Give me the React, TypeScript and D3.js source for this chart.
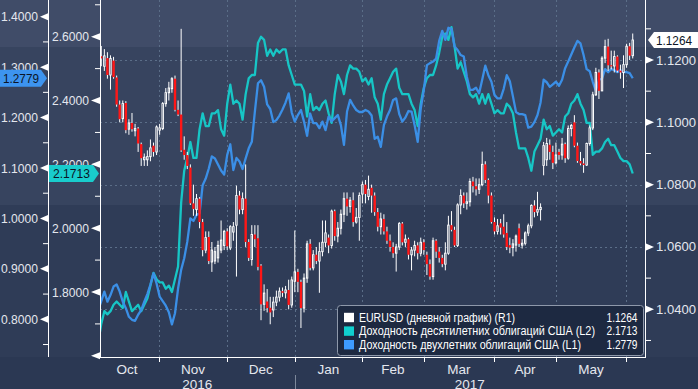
import React from 'react';
import * as d3 from 'd3';

// trading days: index 0 = 3 Oct 2016 ... index 174 = 2 Jun 2017
// EURUSD daily candles [open, high, low, close]
const eurusd: [number, number, number, number][] = [
  [1.1240, 1.1250, 1.1200, 1.1210], [1.1212, 1.1245, 1.1180, 1.1205], [1.1180, 1.1235, 1.1165, 1.1213],
  [1.1206, 1.1225, 1.1140, 1.1152], [1.1152, 1.1215, 1.1105, 1.1205], [1.1198, 1.1210, 1.1140, 1.1145],
  [1.1144, 1.1150, 1.1050, 1.1057], [1.1057, 1.1070, 1.1000, 1.1010], [1.1012, 1.1070, 1.1000, 1.1060],
  [1.1062, 1.1068, 1.0965, 1.0975], [1.0978, 1.1010, 1.0960, 1.0998], [1.0998, 1.1030, 1.0970, 1.0978],
  [1.0973, 1.0995, 1.0955, 1.0980], [1.0980, 1.0985, 1.0905, 1.0932], [1.0930, 1.0935, 1.0860, 1.0885],
  [1.0880, 1.0900, 1.0860, 1.0888], [1.0880, 1.0910, 1.0860, 1.0890], [1.0890, 1.0945, 1.0875, 1.0918],
  [1.0925, 1.0935, 1.0890, 1.0905], [1.0905, 1.0990, 1.0895, 1.0985], [1.0975, 1.0995, 1.0960, 1.0982],
  [1.0980, 1.1065, 1.0975, 1.1060], [1.1060, 1.1110, 1.1050, 1.1095], [1.1095, 1.1130, 1.1070, 1.1110],
  [1.1108, 1.1145, 1.1095, 1.1140], [1.1140, 1.1150, 1.1035, 1.1040], [1.1040, 1.1070, 1.1020, 1.1025],
  [1.1025, 1.1300, 1.0905, 1.0910], [1.0912, 1.0955, 1.0880, 1.0895], [1.0895, 1.0905, 1.0850, 1.0860],
  [1.0855, 1.0865, 1.0735, 1.0740], [1.0740, 1.0800, 1.0700, 1.0722], [1.0720, 1.0770, 1.0700, 1.0755],
  [1.0755, 1.0760, 1.0660, 1.0680], [1.0680, 1.0690, 1.0570, 1.0590], [1.0590, 1.0650, 1.0580, 1.0630],
  [1.0632, 1.0650, 1.0545, 1.0555], [1.0552, 1.0616, 1.0520, 1.0590], [1.0555, 1.0600, 1.0545, 1.0585],
  [1.0565, 1.0620, 1.0550, 1.0605], [1.0590, 1.0685, 1.0580, 1.0622], [1.0605, 1.0655, 1.0590, 1.0650],
  [1.0650, 1.0660, 1.0590, 1.0602], [1.0597, 1.0670, 1.0590, 1.0665], [1.0648, 1.0680, 1.0620, 1.0665],
  [1.0670, 1.0797, 1.0505, 1.0765], [1.0765, 1.0780, 1.0705, 1.0720], [1.0720, 1.0775, 1.0705, 1.0755],
  [1.0755, 1.0865, 1.0600, 1.0616], [1.0616, 1.0625, 1.0555, 1.0565], [1.0560, 1.0670, 1.0540, 1.0640],
  [1.0640, 1.0670, 1.0600, 1.0625], [1.0628, 1.0670, 1.0525, 1.0536], [1.0540, 1.0545, 1.0365, 1.0416],
  [1.0416, 1.0480, 1.0395, 1.0452], [1.0425, 1.0465, 1.0390, 1.0404], [1.0405, 1.0440, 1.0352, 1.0390],
  [1.0398, 1.0440, 1.0375, 1.0423], [1.0423, 1.0460, 1.0410, 1.0439], [1.0439, 1.0470, 1.0425, 1.0458],
  [1.0458, 1.0470, 1.0440, 1.0453], [1.0453, 1.0475, 1.0435, 1.0462], [1.0462, 1.0495, 1.0400, 1.0414],
  [1.0414, 1.0505, 1.0405, 1.0494], [1.0490, 1.0653, 1.0455, 1.0520], [1.0520, 1.0530, 1.0455, 1.0488],
  [1.0488, 1.0495, 1.0340, 1.0404], [1.0404, 1.0515, 1.0390, 1.0500], [1.0500, 1.0620, 1.0485, 1.0610],
  [1.0610, 1.0625, 1.0525, 1.0533], [1.0533, 1.0590, 1.0525, 1.0575], [1.0575, 1.0600, 1.0545, 1.0555],
  [1.0555, 1.0615, 1.0453, 1.0585], [1.0585, 1.0685, 1.0570, 1.0615], [1.0615, 1.0685, 1.0600, 1.0645],
  [1.0630, 1.0640, 1.0580, 1.0605], [1.0605, 1.0720, 1.0595, 1.0715], [1.0715, 1.0720, 1.0620, 1.0635],
  [1.0635, 1.0680, 1.0615, 1.0660], [1.0660, 1.0720, 1.0640, 1.0705], [1.0705, 1.0775, 1.0680, 1.0755],
  [1.0755, 1.0775, 1.0700, 1.0730], [1.0730, 1.0760, 1.0710, 1.0750], [1.0750, 1.0775, 1.0665, 1.0680],
  [1.0680, 1.0725, 1.0675, 1.0695], [1.0695, 1.0775, 1.0620, 1.0765], [1.0770, 1.0810, 1.0740, 1.0800],
  [1.0800, 1.0815, 1.0740, 1.0770], [1.0762, 1.0829, 1.0750, 1.0785], [1.0790, 1.0800, 1.0710, 1.0765],
  [1.0765, 1.0775, 1.0700, 1.0712], [1.0712, 1.0725, 1.0650, 1.0665], [1.0665, 1.0710, 1.0640, 1.0690],
  [1.0690, 1.0705, 1.0640, 1.0650], [1.0650, 1.0665, 1.0610, 1.0620], [1.0620, 1.0640, 1.0585, 1.0600],
  [1.0600, 1.0615, 1.0565, 1.0580], [1.0580, 1.0610, 1.0521, 1.0600], [1.0600, 1.0680, 1.0590, 1.0675],
  [1.0675, 1.0680, 1.0605, 1.0615], [1.0615, 1.0640, 1.0600, 1.0625], [1.0625, 1.0630, 1.0560, 1.0575],
  [1.0575, 1.0600, 1.0525, 1.0590], [1.0590, 1.0620, 1.0570, 1.0605], [1.0605, 1.0615, 1.0560, 1.0580],
  [1.0580, 1.0630, 1.0570, 1.0615], [1.0615, 1.0625, 1.0575, 1.0590], [1.0575, 1.0585, 1.0510, 1.0545],
  [1.0545, 1.0560, 1.0495, 1.0505], [1.0505, 1.0630, 1.0495, 1.0620], [1.0620, 1.0625, 1.0565, 1.0585],
  [1.0585, 1.0600, 1.0550, 1.0565], [1.0565, 1.0575, 1.0535, 1.0545], [1.0545, 1.0615, 1.0525, 1.0580],
  [1.0580, 1.0700, 1.0575, 1.0670], [1.0670, 1.0715, 1.0650, 1.0655], [1.0655, 1.0665, 1.0600, 1.0605],
  [1.0605, 1.0740, 1.0600, 1.0735], [1.0735, 1.0785, 1.0705, 1.0765], [1.0765, 1.0775, 1.0725, 1.0740],
  [1.0740, 1.0775, 1.0720, 1.0745], [1.0745, 1.0820, 1.0730, 1.0810], [1.0810, 1.0825, 1.0775, 1.0795],
  [1.0795, 1.0820, 1.0765, 1.0785], [1.0785, 1.0820, 1.0770, 1.0800], [1.0800, 1.0906, 1.0795, 1.0865],
  [1.0865, 1.0875, 1.0805, 1.0815], [1.0815, 1.0820, 1.0740, 1.0765], [1.0765, 1.0775, 1.0675, 1.0680],
  [1.0680, 1.0695, 1.0640, 1.0650], [1.0650, 1.0690, 1.0640, 1.0668], [1.0676, 1.0690, 1.0640, 1.0662],
  [1.0665, 1.0705, 1.0630, 1.0640], [1.0645, 1.0680, 1.0590, 1.0600], [1.0606, 1.0630, 1.0580, 1.0598],
  [1.0598, 1.0625, 1.0570, 1.0610], [1.0606, 1.0640, 1.0585, 1.0635], [1.0660, 1.0675, 1.0600, 1.0610],
  [1.0606, 1.0625, 1.0595, 1.0612], [1.0612, 1.0650, 1.0605, 1.0645], [1.0645, 1.0675, 1.0635, 1.0668],
  [1.0668, 1.0737, 1.0660, 1.0733], [1.0733, 1.0750, 1.0695, 1.0712], [1.0712, 1.0777, 1.0700, 1.0720],
  [1.0720, 1.0740, 1.0685, 1.0727], [1.0862, 1.0937, 1.0830, 1.0925], [1.0880, 1.0950, 1.0860, 1.0932],
  [1.0928, 1.0945, 1.0880, 1.0905], [1.0905, 1.0925, 1.0850, 1.0870], [1.0870, 1.0935, 1.0865, 1.0895],
  [1.0905, 1.0915, 1.0880, 1.0895], [1.0895, 1.0950, 1.0880, 1.0930], [1.0930, 1.0935, 1.0870, 1.0885],
  [1.0885, 1.0990, 1.0880, 1.0980], [1.0980, 1.0995, 1.0955, 1.0990], [1.1000, 1.1023, 1.0920, 1.0925],
  [1.0925, 1.0935, 1.0870, 1.0876], [1.0876, 1.0905, 1.0862, 1.0868], [1.0868, 1.0885, 1.0838, 1.0863],
  [1.0863, 1.0935, 1.0860, 1.0932], [1.0932, 1.0990, 1.0925, 1.0982], [1.0982, 1.1098, 1.0975, 1.1088],
  [1.1088, 1.1175, 1.1085, 1.1160], [1.1160, 1.1170, 1.1075, 1.1101], [1.1101, 1.1212, 1.1100, 1.1206],
  [1.1206, 1.1265, 1.1190, 1.1243], [1.1243, 1.1268, 1.1165, 1.1183], [1.1183, 1.1230, 1.1170, 1.1181],
  [1.1181, 1.1230, 1.1160, 1.1211], [1.1211, 1.1215, 1.1160, 1.1166], [1.1166, 1.1185, 1.1140, 1.1160],
  [1.1160, 1.1215, 1.1110, 1.1185], [1.1185, 1.1252, 1.1175, 1.1244], [1.1244, 1.1255, 1.1200, 1.1214],
  [1.1214, 1.1285, 1.1205, 1.1264],
];

// US 10y yield (L2)
const ust10y: number[] = [
  1.64, 1.70, 1.74, 1.73, 1.74, 1.76, 1.77, 1.76, 1.75, 1.80, 1.77, 1.74, 1.75, 1.76, 1.74, 1.76, 1.78, 1.82, 1.86, 1.84,
  1.83, 1.83, 1.81, 1.82, 1.80, 1.84, 1.88, 2.08, 2.18, 2.22, 2.27, 2.22, 2.22, 2.31, 2.36, 2.32, 2.32, 2.36, 2.36, 2.37,
  2.31, 2.29, 2.39, 2.45, 2.39, 2.40, 2.39, 2.34, 2.42, 2.47, 2.48, 2.48, 2.58, 2.60, 2.59, 2.54, 2.56, 2.54, 2.56, 2.55,
  2.56, 2.56, 2.51, 2.48, 2.45, 2.45, 2.45, 2.43, 2.35, 2.42, 2.37, 2.38, 2.37, 2.39, 2.40, 2.36, 2.33, 2.42, 2.48, 2.46,
  2.42, 2.48, 2.51, 2.50, 2.50, 2.49, 2.46, 2.47, 2.45, 2.47, 2.41, 2.39, 2.34, 2.42, 2.45, 2.47, 2.49, 2.50, 2.44, 2.42,
  2.42, 2.42, 2.39, 2.37, 2.32, 2.39, 2.44, 2.47, 2.48, 2.48, 2.51, 2.55, 2.60, 2.61, 2.59, 2.63, 2.57, 2.50, 2.52, 2.49,
  2.46, 2.42, 2.41, 2.42, 2.39, 2.42, 2.39, 2.42, 2.39, 2.36, 2.37, 2.36, 2.36, 2.39, 2.38, 2.36, 2.30, 2.25, 2.25, 2.25,
  2.22, 2.18, 2.24, 2.26, 2.28, 2.34, 2.31, 2.32, 2.29, 2.30, 2.31, 2.30, 2.35, 2.36, 2.39, 2.40, 2.42, 2.39, 2.37, 2.33,
  2.33, 2.23, 2.24, 2.24, 2.25, 2.27, 2.28, 2.26, 2.26, 2.24, 2.22, 2.21, 2.21, 2.20, 2.1713,
];

// US 2y yield (L1)
const ust2y: number[] = [
  0.818, 0.836, 0.855, 0.835, 0.848, 0.865, 0.869, 0.855, 0.835, 0.822, 0.805, 0.799, 0.797, 0.809, 0.818, 0.835, 0.850, 0.869, 0.891, 0.871,
  0.845, 0.836, 0.827, 0.814, 0.790, 0.812, 0.861, 0.898, 0.921, 0.954, 1.000, 0.995, 1.007, 1.010, 1.066, 1.079, 1.099, 1.123, 1.119, 1.107,
  1.095, 1.087, 1.126, 1.147, 1.096, 1.120, 1.113, 1.098, 1.119, 1.139, 1.152, 1.212, 1.268, 1.274, 1.261, 1.226, 1.217, 1.191, 1.195, 1.204,
  1.216, 1.230, 1.248, 1.210, 1.192, 1.205, 1.215, 1.192, 1.164, 1.208, 1.189, 1.189, 1.179, 1.192, 1.175, 1.202, 1.193, 1.199, 1.205, 1.185,
  1.146, 1.212, 1.235, 1.224, 1.215, 1.211, 1.211, 1.215, 1.212, 1.204, 1.158, 1.162, 1.142, 1.185, 1.202, 1.215, 1.235, 1.238, 1.207, 1.192,
  1.200, 1.213, 1.212, 1.185, 1.152, 1.218, 1.255, 1.304, 1.308, 1.311, 1.317, 1.352, 1.372, 1.354, 1.378, 1.376, 1.341, 1.334, 1.324, 1.321,
  1.281, 1.255, 1.255, 1.259, 1.248, 1.275, 1.303, 1.284, 1.271, 1.245, 1.238, 1.238, 1.257, 1.284, 1.272, 1.242, 1.211, 1.207, 1.207, 1.205,
  1.180, 1.182, 1.191, 1.205, 1.230, 1.275, 1.270, 1.261, 1.266, 1.271, 1.263, 1.275, 1.298, 1.311, 1.325, 1.339, 1.352, 1.347, 1.324, 1.296,
  1.292, 1.271, 1.253, 1.275, 1.277, 1.296, 1.290, 1.296, 1.294, 1.290, 1.294, 1.290, 1.290, 1.288, 1.2779,
];

// first trading-day index of each month (Oct .. Jun)
const monthStarts = [0, 21, 43, 65, 87, 107, 130, 150, 173];
const monthLabels = ['Oct', 'Nov', 'Dec', 'Jan', 'Feb', 'Mar', 'Apr', 'May'];
const yearLabels = ['2016', '2017'];

const l1Ticks = [0.8, 0.9, 1.0, 1.1, 1.2, 1.3, 1.4];
const l1Minor = [0.75, 0.85, 0.95, 1.05, 1.15, 1.25, 1.35];
const l2Ticks = [1.8, 2.0, 2.2, 2.4, 2.6];
const l2Minor = [1.7, 1.9, 2.1, 2.3, 2.5, 2.7];
const rTicks = [1.04, 1.06, 1.08, 1.1, 1.12];
const rMinor = [1.03, 1.05, 1.07, 1.09, 1.11, 1.13];

const legendNames = [
  'EURUSD (дневной график) (R1)',
  'Доходность десятилетних облигаций США (L2)',
  'Доходность двухлетних облигаций США (L1)',
];
const legendValues = ['1.1264', '2.1713', '1.2779'];
const lastEur = 1.1264;
const last10 = 2.1713;
const last2 = 1.2779;

const FONT = "'Liberation Sans', Arial, sans-serif";
const W = 698;
const H = 389;
const plotL = 100;
const plotR = 645;
const plotB = 357;
const TXT = '#e4e7ee';
const CYAN = '#17c6c6';
const BLUE = '#3b8fe6';

export default function App() {
  const x = d3.scaleLinear().domain([0, 174]).range([98.2, 98.2 + 174 * 3.072]);
  const yR = d3.scaleLinear().domain([1.04, 1.12]).range([309.3, 60]);
  const yL2 = d3.scaleLinear().domain([1.8, 2.6]).range([292, 36.7]);
  const yL1 = d3.scaleLinear().domain([0.8, 1.4]).range([319.3, 16.7]);

  const line10 = d3.line<number>().x((_, i) => x(i)).y(d => yL2(d));
  const line2 = d3.line<number>().x((_, i) => x(i)).y(d => yL1(d));

  // month boundary ticks (Bloomberg draws them just before the first day)
  const tickX = monthStarts.map(s => x(s - 1.1));
  const fmt = d3.format('.4f');
  const bw = 2.4;

  const yE = yR(lastEur);
  const y10 = yL2(last10);
  const y2 = yL1(last2);
  const nameLen = [156, 236, 222];

  return (
    <svg width={W} height={H} style={{ position: 'absolute', left: 0, top: 0, display: 'block' }} fontFamily={FONT}>
      <defs>
        <clipPath id="plot"><rect x={plotL} y={0} width={plotR - plotL} height={plotB} /></clipPath>
      </defs>
      {/* background bands */}
      <rect x={0} y={0} width={W} height={H} fill="#2b3853" />
      <rect x={0} y={0} width={W} height={47} fill="#404c68" />
      <rect x={0} y={47} width={W} height={158} fill="#37445f" />
      <rect x={0} y={205} width={W} height={plotB - 205} fill="#2f3c57" />

      {/* grid */}
      <g stroke="#5b6e88" strokeWidth={1} strokeDasharray="2,3">
        {rTicks.map(t => (
          <line key={'h' + t} x1={plotL} x2={plotR} y1={Math.round(yR(t)) + 0.5} y2={Math.round(yR(t)) + 0.5} />
        ))}
        {tickX.slice(1, 9).map((tx, k) => (
          <line key={'v' + k} x1={Math.round(tx) + 0.5} x2={Math.round(tx) + 0.5} y1={0} y2={plotB} />
        ))}
      </g>

      {/* series */}
      <g clipPath="url(#plot)">
        <path d={line10(ust10y) ?? ''} fill="none" stroke={CYAN} strokeWidth={2.3} strokeLinejoin="round" />
        <path d={line2(ust2y) ?? ''} fill="none" stroke={BLUE} strokeWidth={2.3} strokeLinejoin="round" />
        {eurusd.map(([o, h, l, c], i) => {
          const cx = x(i);
          const up = c >= o;
          const top = yR(Math.max(o, c));
          const bot = yR(Math.min(o, c));
          return (
            <g key={i}>
              <line x1={cx} x2={cx} y1={yR(h)} y2={yR(l)} stroke="#ffffff" strokeWidth={1} />
              {up ? (
                <rect x={cx - bw / 2 + 0.5} y={top} width={bw - 1} height={Math.max(bot - top, 1)} fill="#2f3c57" stroke="#ffffff" strokeWidth={1} />
              ) : (
                <rect x={cx - bw / 2} y={top} width={bw} height={Math.max(bot - top, 1)} fill="#ff1616" />
              )}
            </g>
          );
        })}
      </g>

      {/* axis lines */}
      <g stroke="#ffffff" strokeWidth={1}>
        <line x1={48.5} x2={48.5} y1={0} y2={plotB} />
        <line x1={plotL + 0.5} x2={plotL + 0.5} y1={0} y2={plotB + 0.5} />
        <line x1={plotR + 0.5} x2={plotR + 0.5} y1={0} y2={plotB + 0.5} />
        <line x1={plotL} x2={plotR + 1} y1={plotB + 0.5} y2={plotB + 0.5} />
        {l1Minor.map(t => <line key={'a' + t} x1={43} x2={48} y1={yL1(t)} y2={yL1(t)} />)}
        {l2Minor.map(t => <line key={'b' + t} x1={95} x2={100} y1={yL2(t)} y2={yL2(t)} />)}
        {rMinor.map(t => <line key={'c' + t} x1={646} x2={651} y1={yR(t)} y2={yR(t)} />)}
        {tickX.slice(1, 9).map((tx, k) => (
          <line key={'m' + k} x1={Math.round(tx) + 0.5} x2={Math.round(tx) + 0.5} y1={plotB} y2={plotB + 5} />
        ))}
      </g>
      <line x1={Math.round(tickX[3]) + 0.5} x2={Math.round(tickX[3]) + 0.5} y1={375} y2={H} stroke="#7d889b" strokeWidth={1} />

      {/* tick arrows */}
      <g fill="#ffffff">
        {l1Ticks.map(t => <polygon key={'p' + t} points={`40,${yL1(t)} 48,${yL1(t) - 3.5} 48,${yL1(t) + 3.5}`} />)}
        {[1.6, ...l2Ticks].map(t => <polygon key={'q' + t} points={`91,${yL2(t)} 100,${yL2(t) - 3.5} 100,${yL2(t) + 3.5}`} />)}
        {rTicks.map(t => <polygon key={'r' + t} points={`654,${yR(t)} 646,${yR(t) - 3.5} 646,${yR(t) + 3.5}`} />)}
      </g>

      {/* tick labels */}
      <g fill={TXT} fontSize={13} dominantBaseline="central">
        {l1Ticks.map(t => <text key={'t1' + t} x={38} y={yL1(t)} textAnchor="end" textLength={37} lengthAdjust="spacingAndGlyphs">{fmt(t)}</text>)}
        {l2Ticks.map(t => <text key={'t2' + t} x={89} y={yL2(t)} textAnchor="end" textLength={37} lengthAdjust="spacingAndGlyphs">{fmt(t)}</text>)}
        {rTicks.map(t => <text key={'t3' + t} x={656} y={yR(t)} textAnchor="start" textLength={40} lengthAdjust="spacingAndGlyphs">{fmt(t)}</text>)}
      </g>

      {/* month & year labels */}
      <g fill={TXT} fontSize={13.5} textAnchor="middle">
        {monthLabels.map((m, k) => {
          const a = k === 0 ? x(-1.1) : tickX[k];
          return <text key={m} x={(a + tickX[k + 1]) / 2} y={374}>{m}</text>;
        })}
        <text x={(plotL + tickX[3]) / 2} y={389}>{yearLabels[0]}</text>
        <text x={(tickX[3] + plotR) / 2} y={389}>{yearLabels[1]}</text>
      </g>

      {/* last value badges */}
      <polygon points={`0,${y2 - 8.5} 41,${y2 - 8.5} 47,${y2} 41,${y2 + 8.5} 0,${y2 + 8.5}`} fill="#3d94ef" />
      <text x={3} y={y2} dominantBaseline="central" fontSize={13} fill="#0c1526" textLength={36} lengthAdjust="spacingAndGlyphs">{fmt(last2)}</text>
      <polygon points={`49,${y10 - 8.5} 93,${y10 - 8.5} 99,${y10} 93,${y10 + 8.5} 49,${y10 + 8.5}`} fill="#19cccc" />
      <text x={53} y={y10} dominantBaseline="central" fontSize={13} fill="#0c1526" textLength={37} lengthAdjust="spacingAndGlyphs">{fmt(last10)}</text>
      <polygon points={`648,${yE} 654,${yE - 8} ${W},${yE - 8} ${W},${yE + 8} 654,${yE + 8}`} fill="#ffffff" />
      <text x={656} y={yE} dominantBaseline="central" fontSize={13} fill="#0c1526" textLength={36} lengthAdjust="spacingAndGlyphs">{fmt(lastEur)}</text>

      {/* legend */}
      <rect x={337.5} y={305.5} width={306} height={50} rx={3} fill="#1d2941" stroke="#8e98aa" strokeWidth={1} />
      {legendNames.map((n, k) => {
        const cy = 317.5 + k * 13.6;
        const col = ['#ffffff', '#10cfcf', '#3d9bff'][k];
        return (
          <g key={n}>
            <rect x={344} y={cy - 4.7} width={10} height={9.4} fill={col} />
            <text x={359} y={cy} dominantBaseline="central" fontSize={12} fill="#ffffff" textLength={nameLen[k]} lengthAdjust="spacingAndGlyphs">{n}</text>
            <text x={637.5} y={cy} dominantBaseline="central" fontSize={12} fill="#ffffff" textAnchor="end" textLength={31} lengthAdjust="spacingAndGlyphs">{legendValues[k]}</text>
          </g>
        );
      })}
    </svg>
  );
}
